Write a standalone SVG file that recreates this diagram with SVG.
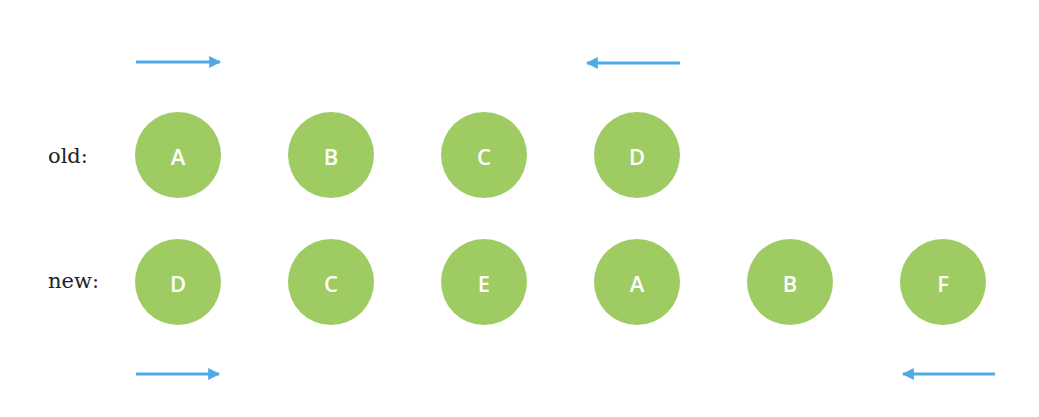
<svg xmlns="http://www.w3.org/2000/svg" width="1039" height="417" viewBox="0 0 1039 417">
<style>
.n circle{fill:#9fcb63}
.n text{fill:#fff;font-family:"Open Sans","Liberation Sans",sans-serif;font-weight:600;font-size:22px;text-anchor:middle;dominant-baseline:central}
.lbl{font-family:"DejaVu Serif","Liberation Serif",serif;font-size:21px;fill:#222}
.c line{stroke:#4eaae6;stroke-width:3;marker-end:url(#ah)}
</style>
<defs>
<marker id="ah" viewBox="0 0 10 10" refX="9" refY="5" markerWidth="4" markerHeight="4" orient="auto" markerUnits="strokeWidth">
<path d="M0,0 L10,5 L0,10 z" fill="#4eaae6"/>
</marker>
</defs>
<rect width="1039" height="417" fill="#fff"/>
<text class="lbl" x="48" y="163">old:</text>
<text class="lbl" x="48" y="288">new:</text>
<g class="c">
<line x1="136" y1="62" x2="220" y2="62"/>
<line x1="680" y1="63" x2="587" y2="63"/>
<line x1="136" y1="374" x2="219" y2="374"/>
<line x1="995" y1="374" x2="903" y2="374"/>
</g>
<g id="old-A" class="n"><circle cx="178" cy="155" r="43"/><text x="178" y="156">A</text></g>
<g id="old-B" class="n"><circle cx="331" cy="155" r="43"/><text x="331" y="156">B</text></g>
<g id="old-C" class="n"><circle cx="484" cy="155" r="43"/><text x="484" y="156">C</text></g>
<g id="old-D" class="n"><circle cx="637" cy="155" r="43"/><text x="637" y="156">D</text></g>
<g id="new-D" class="n"><circle cx="178" cy="282" r="43"/><text x="178" y="283">D</text></g>
<g id="new-C" class="n"><circle cx="331" cy="282" r="43"/><text x="331" y="283">C</text></g>
<g id="new-E" class="n"><circle cx="484" cy="282" r="43"/><text x="484" y="283">E</text></g>
<g id="new-A" class="n"><circle cx="637" cy="282" r="43"/><text x="637" y="283">A</text></g>
<g id="new-B" class="n"><circle cx="790" cy="282" r="43"/><text x="790" y="283">B</text></g>
<g id="new-F" class="n"><circle cx="943" cy="282" r="43"/><text x="943" y="283">F</text></g>
</svg>
